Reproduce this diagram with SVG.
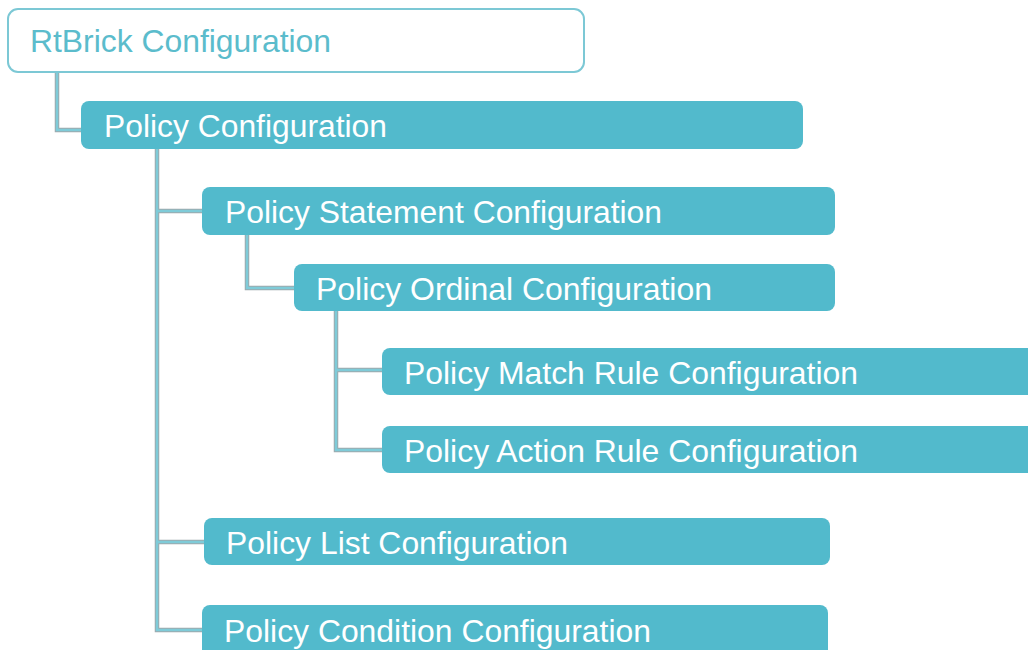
<svg xmlns="http://www.w3.org/2000/svg" width="1028" height="650" viewBox="0 0 1028 650">
<style>
.n rect{fill:#52bacc;}
.n text{fill:#ffffff;font-family:"Liberation Sans",Arial,sans-serif;font-size:31.5px;}
.root rect{fill:#ffffff;stroke:#7cc8d5;stroke-width:2;}
.root text{fill:#5bbccc;font-family:"Liberation Sans",Arial,sans-serif;font-size:31.5px;}
.c path{fill:none;stroke:#9ca9ad;stroke-width:4.5;stroke-linejoin:miter;}
.c path.in{stroke:#7fcbd8;stroke-width:2.5;}
</style>
<rect width="1028" height="650" fill="#ffffff"/>
<g class="c" id="connectors">
<path d="M57 72V130H81"/>
<path d="M157 149V630H202M157 211H202M157 542H204"/>
<path d="M247 235V288H294"/>
<path d="M336 311V450H382M336 370H382"/>
<path class="in" d="M57 72V130H81"/>
<path class="in" d="M157 149V630H202M157 211H202M157 542H204"/>
<path class="in" d="M247 235V288H294"/>
<path class="in" d="M336 311V450H382M336 370H382"/>
</g>
<g id="rtbrick" class="root"><rect x="8" y="9" width="576" height="63" rx="10"/><text x="30" y="52" textLength="301" lengthAdjust="spacingAndGlyphs">RtBrick Configuration</text></g>
<g id="policy" class="n"><rect x="81" y="101" width="722" height="48" rx="8"/><text x="104" y="137" textLength="283" lengthAdjust="spacingAndGlyphs">Policy Configuration</text></g>
<g id="statement" class="n"><rect x="202" y="187" width="633" height="48" rx="8"/><text x="225" y="223" textLength="437" lengthAdjust="spacingAndGlyphs">Policy Statement Configuration</text></g>
<g id="ordinal" class="n"><rect x="294" y="264" width="541" height="47" rx="8"/><text x="316" y="300" textLength="396" lengthAdjust="spacingAndGlyphs">Policy Ordinal Configuration</text></g>
<g id="match" class="n"><rect x="382" y="348" width="656" height="47" rx="8"/><text x="404" y="384" textLength="454" lengthAdjust="spacingAndGlyphs">Policy Match Rule Configuration</text></g>
<g id="action" class="n"><rect x="382" y="426" width="656" height="47" rx="8"/><text x="404" y="462" textLength="454" lengthAdjust="spacingAndGlyphs">Policy Action Rule Configuration</text></g>
<g id="list" class="n"><rect x="204" y="518" width="626" height="47" rx="8"/><text x="226" y="554" textLength="342" lengthAdjust="spacingAndGlyphs">Policy List Configuration</text></g>
<g id="condition" class="n"><rect x="202" y="605" width="626" height="60" rx="8"/><text x="224" y="642" textLength="427" lengthAdjust="spacingAndGlyphs">Policy Condition Configuration</text></g>
</svg>
